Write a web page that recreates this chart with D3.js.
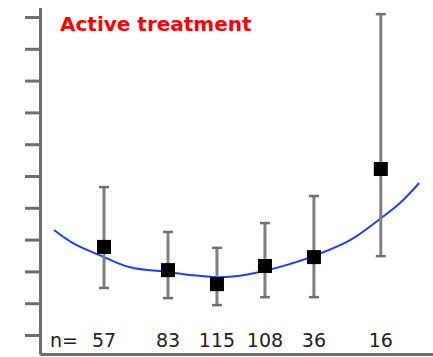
<!DOCTYPE html>
<html>
<head>
<meta charset="utf-8">
<script src="https://cdn.jsdelivr.net/npm/d3@7"></script>
<style>
  html, body { margin: 0; padding: 0; background: #fff; }
  svg { display: block; }
  text { font-family: "DejaVu Sans", Verdana, sans-serif; }
</style>
</head>
<body>
<svg id="chart" width="433" height="357"></svg>
<script>
// group positions on the x variable and sample sizes
const groupX = [4, 8, 11.06, 14.06, 17.12, 21.3];
const groupN = [57, 83, 115, 108, 36, 16];
// mean and error bar ends
const groupMean = [2.77, 2.04, 1.6, 2.17, 2.45, 5.22];
const groupLow = [1.48, 1.16, 0.94, 1.19, 1.19, 2.48];
const groupHigh = [4.65, 3.24, 2.74, 3.52, 4.37, 10.09];

// fitted curve (blue)
const fitX = [0.875, 2.06, 4, 5.625, 8, 9.375, 11.06, 12.5, 14.06, 15.6, 17.1, 19.4, 21.25, 22.5, 23.7];
const fitY = [3.3, 2.89, 2.45, 2.13, 1.98, 1.89, 1.82, 1.86, 2.02, 2.23, 2.48, 2.99, 3.65, 4.15, 4.78];

const yTicks = d3.range(0, 11);

const svg = d3.select("#chart");

const x = d3.scaleLinear().domain([0, 24.5]).range([40, 432]);
const y = d3.scaleLinear().domain([0, 10]).range([335, 17]);
const yBottom = -0.6;
const yTop = 10.3;

const axisColor = "#6e6e6e";

// y axis: unlabeled ticks
const yAxisScale = y.copy().domain([yBottom, yTop]).range([y(yBottom), y(yTop)]);
const yAxis = svg.append("g")
  .attr("transform", `translate(${x(0)},0)`)
  .call(d3.axisLeft(yAxisScale).tickValues(yTicks).tickSize(15).tickSizeOuter(0).tickFormat(""));
yAxis.select(".domain").attr("stroke", axisColor).attr("stroke-width", 3);
yAxis.selectAll(".tick line").attr("stroke", axisColor).attr("stroke-width", 3);

// x axis: plain line
const xAxis = svg.append("g")
  .attr("transform", `translate(0,${y(yBottom)})`)
  .call(d3.axisBottom(x.copy().domain([0, 24.6]).range([x(0), 433])).tickValues([]).tickSizeOuter(0));
xAxis.select(".domain").attr("stroke", axisColor).attr("stroke-width", 3);

// title
svg.append("text")
  .attr("x", 60)
  .attr("y", 31)
  .attr("fill", "#ff0000")
  .attr("font-size", 20)
  .attr("font-weight", "bold")
  .text("Active treatment");

// fitted curve
const line = d3.line()
  .x((d) => x(d[0]))
  .y((d) => y(d[1]))
  .curve(d3.curveCatmullRom.alpha(0.5));

svg.append("path")
  .datum(d3.zip(fitX, fitY))
  .attr("fill", "none")
  .attr("stroke", "#1f3dff")
  .attr("stroke-width", 2)
  .attr("d", line);

// error bars
const groups = groupX.map((gx, i) => ({
  x: gx, mean: groupMean[i], lo: groupLow[i], hi: groupHigh[i], n: groupN[i]
}));

const bars = svg.append("g")
  .selectAll("g")
  .data(groups)
  .join("g");

bars.append("line")
  .attr("x1", (d) => x(d.x))
  .attr("x2", (d) => x(d.x))
  .attr("y1", (d) => y(d.lo))
  .attr("y2", (d) => y(d.hi))
  .attr("stroke", "#808080")
  .attr("stroke-width", 3);

["lo", "hi"].forEach((k) => {
  bars.append("line")
    .attr("x1", (d) => x(d.x) - 5)
    .attr("x2", (d) => x(d.x) + 5)
    .attr("y1", (d) => y(d[k]))
    .attr("y2", (d) => y(d[k]))
    .attr("stroke", "#707070")
    .attr("stroke-width", 2.5);
});

bars.append("rect")
  .attr("x", (d) => x(d.x) - 7)
  .attr("y", (d) => y(d.mean) - 7)
  .attr("width", 14)
  .attr("height", 14)
  .attr("fill", "#000");

// sample sizes
const labelY = y(yBottom) - 7;
svg.append("text")
  .attr("x", 50)
  .attr("y", labelY)
  .attr("font-size", 19)
  .attr("fill", "#222")
  .text("n=");

svg.append("g")
  .selectAll("text")
  .data(groups)
  .join("text")
  .attr("x", (d) => x(d.x))
  .attr("y", labelY)
  .attr("text-anchor", "middle")
  .attr("font-size", 19)
  .attr("fill", "#222")
  .text((d) => d.n);
</script>
</body>
</html>
